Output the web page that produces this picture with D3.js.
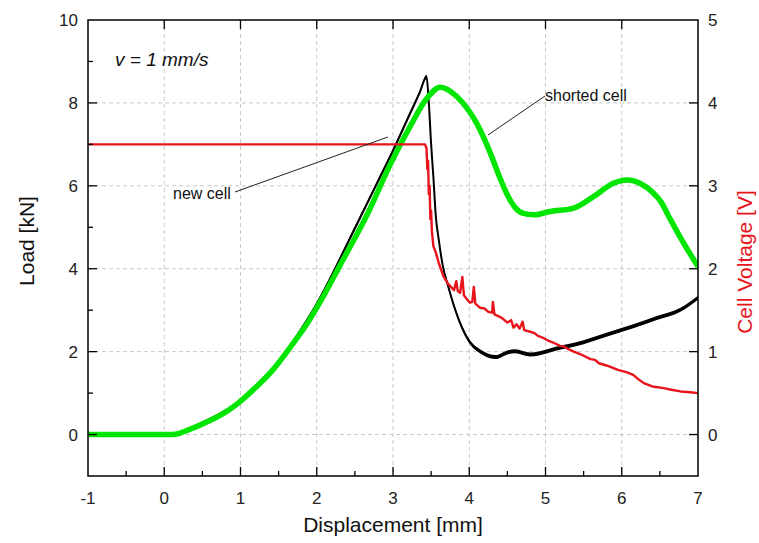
<!DOCTYPE html>
<html><head><meta charset="utf-8">
<script src="https://cdn.jsdelivr.net/npm/d3@7"></script>
<style>html,body{margin:0;padding:0;background:#fff;} svg{display:block;font-family:"Liberation Sans",Arial,sans-serif;}</style>
</head><body><svg id="c" width="759" height="543"></svg>
<script>
// ---- data ----
const xTicks = [-1,0,1,2,3,4,5,6,7];
const loadTicks = [0,2,4,6,8,10];
const voltTicks = [0,1,2,3,4,5];
// new cell load [kN]
const newCellX = [-1,0,0.1,0.2,0.3,0.5,0.75,1.0,1.2,1.4,1.6,1.8,2.0,2.2,2.4,2.6,2.8,3.0,3.2,3.35,3.44,3.47,3.50,3.53,3.56,3.60,3.65,3.72,3.80,3.90,4.00,4.15,4.35,4.50,4.60,4.80,5.00,5.20,5.40,5.80,6.15,6.46,6.77,7.0];
const newCellLoad = [0,0,0,0.03,0.1,0.27,0.5,0.8,1.12,1.52,2.0,2.55,3.15,3.85,4.6,5.35,6.1,6.85,7.65,8.25,8.63,8.0,7.0,6.2,5.3,4.7,4.1,3.6,3.1,2.6,2.25,2.0,1.87,1.98,2.01,1.93,2.0,2.1,2.18,2.41,2.61,2.81,3.01,3.3];
// shorted cell load [kN]
const shortX = [-1,0,0.1,0.2,0.3,0.53,0.75,0.97,1.19,1.41,1.63,1.85,2.06,2.31,2.66,2.96,3.23,3.44,3.62,3.84,4.0,4.1,4.2,4.3,4.4,4.5,4.6,4.7,4.85,5.06,5.37,5.63,5.89,6.07,6.25,6.4,6.52,6.62,6.77,7.0];
const shortLoad = [0,0,0,0.03,0.1,0.28,0.48,0.76,1.12,1.53,2.05,2.61,3.25,4.1,5.3,6.5,7.45,8.1,8.38,8.15,7.8,7.5,7.12,6.68,6.2,5.78,5.48,5.34,5.3,5.38,5.46,5.74,6.06,6.14,6.05,5.85,5.6,5.25,4.75,4.05];
// cell voltage [V]
const voltX = [-1,3.0,3.42,3.44,3.45,3.46,3.47,3.48,3.49,3.50,3.51,3.53,3.56,3.60,3.66,3.72,3.75,3.80,3.83,3.85,3.88,3.91,3.93,3.97,4.01,4.04,4.06,4.08,4.14,4.20,4.25,4.30,4.31,4.33,4.40,4.45,4.50,4.55,4.58,4.62,4.66,4.70,4.72,4.80,4.86,4.90,4.96,5.02,5.10,5.19,5.25,5.30,5.37,5.48,5.59,5.65,5.70,5.81,5.95,6.07,6.15,6.20,6.29,6.40,6.55,6.65,6.77,6.90,7.0];
const voltV = [3.5,3.5,3.5,3.45,3.2,3.3,2.9,3.0,2.6,2.7,2.45,2.27,2.2,2.07,1.91,1.82,1.79,1.74,1.85,1.73,1.71,1.9,1.68,1.63,1.59,1.6,1.78,1.58,1.53,1.52,1.48,1.47,1.6,1.45,1.42,1.39,1.35,1.38,1.29,1.33,1.28,1.36,1.26,1.24,1.22,1.19,1.17,1.14,1.11,1.07,1.06,1.03,1.0,0.96,0.91,0.9,0.86,0.83,0.78,0.75,0.72,0.68,0.62,0.58,0.56,0.54,0.52,0.51,0.5];

// ---- layout ----
const svg = d3.select("#c");
const L = 88, R = 698, T = 20, B = 476;
const x = d3.scaleLinear().domain([-1,7]).range([L,R]);
const yL = d3.scaleLinear().domain([-1,10]).range([B,T]);
const yR = d3.scaleLinear().domain([-0.5,5]).range([B,T]);

// grid
const g = svg.append("g");
g.selectAll("line.vg").data(xTicks.filter(d=>d>-1&&d<7)).join("line")
  .attr("x1",d=>x(d)).attr("x2",d=>x(d)).attr("y1",T).attr("y2",B)
  .attr("stroke","#c8c8c8").attr("stroke-width",1).attr("stroke-dasharray","4,3");
g.selectAll("line.hg").data(loadTicks.filter(d=>d<10)).join("line")
  .attr("y1",d=>yL(d)).attr("y2",d=>yL(d)).attr("x1",L).attr("x2",R)
  .attr("stroke","#c8c8c8").attr("stroke-width",1).attr("stroke-dasharray","4,3");

// curves
const nc = newCellX.map((d,i)=>({x:d,y:newCellLoad[i]}));
const sc = shortX.map((d,i)=>({x:d,y:shortLoad[i]}));
const vc = voltX.map((d,i)=>({x:d,y:voltV[i]}));
svg.append("clipPath").attr("id","clp").append("rect").attr("x",L).attr("y",T).attr("width",R-L).attr("height",B-T);
const plot = svg.append("g").attr("clip-path","url(#clp)");

const bandNC = d3.area().x(d=>x(d.x)).y0(d=>yL(d.y)-2).y1(d=>yL(d.y)+2).curve(d3.curveMonotoneX);
const lineNC = d3.line().x(d=>x(d.x)).y(d=>yL(d.y)).curve(d3.curveMonotoneX);
plot.append("path").datum(nc).attr("d",bandNC).attr("fill","#000");
plot.append("path").datum(nc).attr("d",lineNC).attr("fill","none").attr("stroke","#000").attr("stroke-width",2);

const bandSC = d3.area().x(d=>x(d.x)).y0(d=>yL(d.y)-2.2).y1(d=>yL(d.y)+2.2).curve(d3.curveMonotoneX);
const lineSC = d3.line().x(d=>x(d.x)).y(d=>yL(d.y)).curve(d3.curveMonotoneX);
plot.append("path").datum(sc).attr("d",bandSC).attr("fill","#00e600");
plot.append("path").datum(sc).attr("d",lineSC).attr("fill","none").attr("stroke","#00e600").attr("stroke-width",5.5);

const lineV = d3.line().x(d=>x(d.x)).y(d=>yR(d.y));
plot.append("path").datum(vc).attr("d",lineV).attr("fill","none").attr("stroke","#e8141c").attr("stroke-width",2.4).attr("stroke-linejoin","round");

// frame
svg.append("rect").attr("x",L).attr("y",T).attr("width",R-L).attr("height",B-T).attr("fill","none").attr("stroke","#000").attr("stroke-width",1.5);

// ticks (inward)
const tk = svg.append("g").attr("stroke","#000").attr("stroke-width",1.3);
const xMinor = d3.range(-0.5,7,1);
xTicks.filter(d=>d>-1&&d<7).forEach(d=>{
  tk.append("line").attr("x1",x(d)).attr("x2",x(d)).attr("y1",B).attr("y2",B-9);
  tk.append("line").attr("x1",x(d)).attr("x2",x(d)).attr("y1",T).attr("y2",T+9);
});
xMinor.forEach(d=>tk.append("line").attr("x1",x(d)).attr("x2",x(d)).attr("y1",B).attr("y2",B-5));
loadTicks.filter(d=>d<10).forEach(d=>tk.append("line").attr("x1",L).attr("x2",L+9).attr("y1",yL(d)).attr("y2",yL(d)));
[1,3,5,7,9].forEach(d=>tk.append("line").attr("x1",L).attr("x2",L+5).attr("y1",yL(d)).attr("y2",yL(d)));
voltTicks.filter(d=>d<5).forEach(d=>tk.append("line").attr("x1",R).attr("x2",R-9).attr("y1",yR(d)).attr("y2",yR(d)));

// tick labels
const fs = 17;
svg.append("g").selectAll("text").data(xTicks).join("text")
  .attr("x",d=>x(d)).attr("y",504).attr("text-anchor","middle").attr("font-size",fs).attr("fill","#222").text(d=>d);
svg.append("g").selectAll("text").data(loadTicks).join("text")
  .attr("x",78).attr("y",d=>yL(d)+6).attr("text-anchor","end").attr("font-size",fs).attr("fill","#222").text(d=>d);
svg.append("g").selectAll("text").data(voltTicks).join("text")
  .attr("x",708).attr("y",d=>yR(d)+6).attr("text-anchor","start").attr("font-size",fs).attr("fill","#222").text(d=>d);

// axis titles
svg.append("text").attr("x",393).attr("y",532).attr("text-anchor","middle").attr("font-size",21).attr("fill","#111").text("Displacement [mm]");
svg.append("text").attr("transform","translate(34,241) rotate(-90)").attr("text-anchor","middle").attr("font-size",21).attr("fill","#111").text("Load [kN]");
svg.append("text").attr("transform","translate(752,262) rotate(-90)").attr("text-anchor","middle").attr("font-size",21).attr("fill","#e8141c").text("Cell Voltage [V]");

// annotations
svg.append("text").attr("x",115).attr("y",66).attr("font-size",19).attr("font-style","italic").attr("fill","#111").text("v = 1 mm/s");
svg.append("line").attr("x1",545).attr("y1",96).attr("x2",488).attr("y2",135).attr("stroke","#222").attr("stroke-width",1);
svg.append("text").attr("x",545).attr("y",101).attr("font-size",16).attr("fill","#111").text("shorted cell");
svg.append("line").attr("x1",235).attr("y1",192).attr("x2",388).attr("y2",137).attr("stroke","#222").attr("stroke-width",1);
svg.append("text").attr("x",173).attr("y",199).attr("font-size",16).attr("fill","#111").text("new cell");
</script></body></html>
